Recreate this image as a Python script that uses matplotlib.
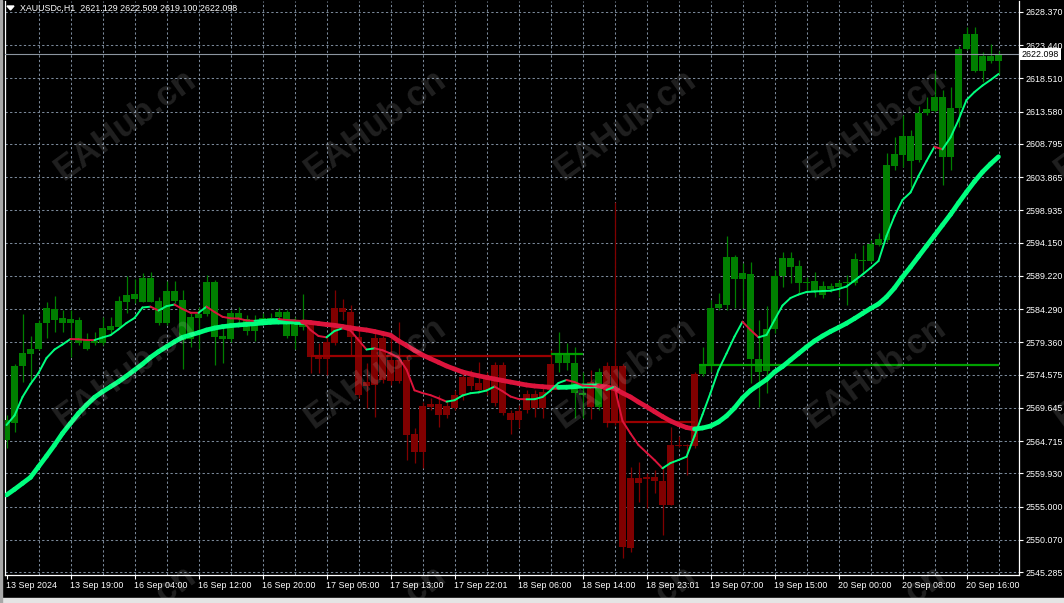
import numpy as np
import matplotlib
matplotlib.use("Agg")
import matplotlib.pyplot as plt
from matplotlib.collections import LineCollection
from matplotlib.patches import Rectangle, Polygon
import matplotlib.transforms as mtransforms

plt.rcParams['font.family'] = ['Liberation Sans', 'DejaVu Sans']

# ---------------- data (XAUUSDc, H1) ----------------
opens = [
    2564.87, 2567.34, 2575.85, 2577.63, 2578.37, 2582.27, 2582.67, 2582.27, 2582.27, 2579.21,
    2578.41, 2579.21, 2579.21, 2581.19, 2581.68, 2585.39, 2585.79, 2585.39, 2585.39, 2582.18,
    2582.18, 2585.54, 2579.70, 2579.81, 2583.01, 2583.56, 2580.19, 2579.90, 2579.90, 2582.78,
    2581.09, 2581.09, 2582.42, 2582.57, 2583.16, 2580.30, 2580.30, 2581.68, 2582.18, 2577.33,
    2579.45, 2584.50, 2584.50, 2583.90, 2580.19, 2573.52, 2580.05, 2580.05, 2576.74, 2576.74,
    2576.74, 2565.76, 2569.91, 2570.21, 2570.21, 2569.91, 2571.54, 2574.17, 2574.17, 2573.28,
    2574.26, 2576.00, 2576.00, 2568.83, 2569.17, 2571.65, 2571.65, 2572.03, 2576.14, 2576.25,
    2576.25, 2571.80, 2571.54, 2573.47, 2569.76, 2575.85, 2575.85, 2575.85, 2559.18, 2559.23,
    2559.42, 2559.42, 2558.79, 2564.12, 2564.12, 2564.12, 2574.66, 2574.62, 2576.00, 2584.41,
    2584.90, 2588.71, 2588.71, 2576.84, 2575.00, 2575.10, 2581.29, 2589.20, 2590.58, 2588.12,
    2588.12, 2587.02, 2586.38, 2587.23, 2587.61, 2588.12, 2588.12, 2591.47, 2591.47, 2593.80,
    2594.54, 2605.56, 2607.15, 2606.31, 2606.41, 2613.34, 2613.73, 2606.81, 2606.81, 2614.08,
    2622.84, 2619.66, 2619.66, 2621.14, 2621.129]
highs = [
    2568.58, 2576.14, 2583.56, 2580.30, 2582.67, 2585.39, 2586.23, 2584.15, 2584.15, 2583.16,
    2580.74, 2580.94, 2583.16, 2583.16, 2586.23, 2589.20, 2588.71, 2589.60, 2589.79, 2586.13,
    2588.50, 2588.50, 2587.12, 2583.66, 2584.64, 2589.39, 2588.61, 2581.44, 2584.15, 2584.64,
    2583.41, 2583.41, 2583.66, 2583.66, 2584.41, 2584.15, 2583.16, 2586.53, 2582.52, 2579.26,
    2580.45, 2587.12, 2585.79, 2584.90, 2581.19, 2576.29, 2581.04, 2580.74, 2580.05, 2582.42,
    2577.33, 2566.60, 2570.55, 2571.10, 2571.54, 2570.80, 2572.29, 2574.96, 2575.25, 2576.48,
    2574.96, 2576.48, 2576.48, 2569.32, 2570.06, 2572.29, 2572.29, 2572.58, 2578.22, 2580.94,
    2579.21, 2578.71, 2575.00, 2575.25, 2575.50, 2576.44, 2600.22, 2576.14, 2560.91, 2561.65,
    2559.93, 2560.42, 2560.91, 2566.80, 2565.46, 2564.27, 2574.96, 2578.71, 2585.64, 2586.63,
    2595.13, 2592.32, 2591.13, 2591.32, 2582.67, 2584.75, 2590.09, 2592.80, 2592.80, 2591.57,
    2589.10, 2589.84, 2588.46, 2588.12, 2588.61, 2589.35, 2592.57, 2593.80, 2594.54, 2595.58,
    2607.40, 2609.87, 2613.09, 2610.86, 2614.42, 2615.71, 2619.76, 2616.80, 2617.29, 2623.33,
    2626.10, 2626.10, 2622.48, 2623.62, 2622.509]
lows = [
    2563.68, 2566.10, 2573.52, 2573.52, 2578.22, 2580.00, 2580.94, 2580.89, 2577.23, 2578.96,
    2578.22, 2578.96, 2578.96, 2580.74, 2581.48, 2583.75, 2585.19, 2585.39, 2585.34, 2581.93,
    2581.93, 2585.19, 2575.36, 2578.71, 2578.33, 2583.26, 2576.00, 2576.25, 2579.45, 2581.93,
    2580.45, 2579.60, 2582.23, 2582.23, 2582.67, 2580.00, 2578.33, 2581.19, 2574.76, 2574.76,
    2574.51, 2578.96, 2582.67, 2577.48, 2571.10, 2569.57, 2568.32, 2573.33, 2573.03, 2573.33,
    2561.90, 2561.41, 2560.67, 2569.32, 2566.84, 2568.13, 2569.32, 2570.80, 2572.29, 2571.84,
    2571.54, 2569.91, 2568.58, 2565.76, 2566.60, 2568.87, 2568.32, 2568.09, 2571.99, 2574.96,
    2575.25, 2568.09, 2568.09, 2567.98, 2569.32, 2566.84, 2567.09, 2547.32, 2548.30, 2555.71,
    2554.73, 2556.96, 2550.77, 2555.22, 2563.83, 2559.67, 2563.68, 2574.36, 2574.96, 2584.15,
    2584.15, 2584.41, 2584.45, 2573.28, 2569.81, 2571.80, 2580.74, 2587.61, 2588.12, 2586.63,
    2586.87, 2586.13, 2585.94, 2586.87, 2586.13, 2584.90, 2587.86, 2589.60, 2591.28, 2593.65,
    2594.24, 2604.93, 2605.42, 2602.45, 2606.11, 2613.09, 2613.53, 2602.70, 2604.93, 2611.35,
    2622.73, 2619.47, 2618.03, 2620.76, 2619.100]
closes = [
    2567.83, 2575.85, 2577.82, 2578.41, 2582.27, 2584.45, 2584.35, 2582.92, 2582.82, 2582.67,
    2579.70, 2579.60, 2581.44, 2581.78, 2585.49, 2586.38, 2586.53, 2588.90, 2588.90, 2585.49,
    2586.97, 2586.97, 2585.64, 2583.16, 2583.56, 2588.31, 2588.31, 2580.30, 2583.66, 2583.66,
    2582.78, 2582.42, 2582.92, 2582.92, 2583.81, 2583.81, 2582.67, 2582.42, 2577.23, 2576.84,
    2576.84, 2579.21, 2583.90, 2580.19, 2571.54, 2572.88, 2573.03, 2573.77, 2573.67, 2573.67,
    2565.61, 2563.13, 2563.13, 2569.81, 2568.58, 2568.58, 2569.66, 2571.54, 2572.88, 2572.29,
    2572.29, 2570.31, 2568.83, 2567.83, 2567.83, 2569.32, 2569.66, 2569.66, 2572.29, 2577.48,
    2577.48, 2576.25, 2571.80, 2569.76, 2575.00, 2567.44, 2567.44, 2549.04, 2548.89, 2558.49,
    2559.04, 2558.79, 2555.22, 2555.22, 2563.97, 2563.97, 2563.97, 2576.00, 2584.50, 2585.05,
    2591.97, 2591.97, 2589.60, 2589.50, 2576.84, 2581.29, 2589.24, 2591.82, 2591.82, 2590.68,
    2588.35, 2588.46, 2587.76, 2587.76, 2588.12, 2588.35, 2591.72, 2591.57, 2593.95, 2594.69,
    2605.67, 2607.30, 2609.97, 2609.97, 2613.34, 2613.93, 2615.71, 2615.71, 2614.08, 2622.84,
    2625.11, 2625.11, 2621.84, 2621.84, 2622.098]
ma_fast = [
    2567.09, 2568.50, 2571.25, 2573.18, 2574.81, 2577.03, 2578.29, 2579.04, 2579.85, 2579.81,
    2579.70, 2579.69, 2580.08, 2580.42, 2581.29, 2582.23, 2582.97, 2584.53, 2584.65, 2584.08,
    2584.72, 2584.97, 2584.30, 2583.75, 2583.74, 2584.65, 2583.86, 2583.15, 2582.92, 2582.89,
    2582.60, 2582.55, 2582.67, 2582.74, 2582.82, 2582.66, 2582.59, 2582.52, 2581.19, 2580.30,
    2580.10, 2581.04, 2581.44, 2581.11, 2579.70, 2578.29, 2578.47, 2578.19, 2577.70, 2577.11,
    2575.33, 2572.24, 2571.84, 2571.52, 2571.06, 2570.56, 2570.77, 2571.47, 2571.81, 2571.94,
    2572.21, 2572.80, 2572.11, 2571.32, 2570.95, 2570.91, 2570.92, 2571.25, 2572.21, 2573.33,
    2573.77, 2573.47, 2572.95, 2572.88, 2572.80, 2572.29, 2572.77, 2567.69, 2565.83, 2564.12,
    2563.01, 2561.90, 2560.67, 2561.45, 2561.90, 2562.39, 2565.46, 2568.65, 2571.84, 2575.25,
    2577.70, 2580.22, 2582.42, 2581.19, 2580.10, 2580.45, 2582.67, 2584.82, 2585.94, 2586.45,
    2586.83, 2586.90, 2586.97, 2587.02, 2587.27, 2587.64, 2588.53, 2589.42, 2590.39, 2591.43,
    2595.13, 2598.10, 2600.48, 2601.59, 2604.04, 2606.26, 2608.38, 2607.99, 2609.75, 2612.35,
    2615.31, 2616.50, 2617.46, 2618.28, 2619.17]
ma_slow = [
    2556.71, 2557.55, 2558.44, 2559.33, 2560.91, 2562.49, 2564.12, 2565.86, 2567.35, 2568.83,
    2570.06, 2571.20, 2572.03, 2572.78, 2573.52, 2574.36, 2575.25, 2576.14, 2577.14, 2577.97,
    2578.71, 2579.45, 2580.10, 2580.45, 2580.79, 2581.19, 2581.48, 2581.68, 2581.83, 2581.93,
    2582.03, 2582.12, 2582.23, 2582.33, 2582.37, 2582.38, 2582.39, 2582.39, 2582.30, 2582.15,
    2582.00, 2581.89, 2581.71, 2581.51, 2581.34, 2581.19, 2580.97, 2580.70, 2580.42, 2579.58,
    2578.89, 2578.15, 2577.48, 2576.93, 2576.40, 2575.85, 2575.40, 2574.96, 2574.66, 2574.39,
    2574.16, 2573.92, 2573.70, 2573.47, 2573.25, 2573.03, 2572.88, 2572.78, 2572.69, 2572.68,
    2572.70, 2572.78, 2572.88, 2572.89, 2572.90, 2572.73, 2572.51, 2571.84, 2571.25, 2570.50,
    2569.81, 2569.07, 2568.35, 2567.69, 2567.17, 2566.72, 2566.50, 2566.65, 2566.94, 2567.54,
    2568.43, 2569.62, 2571.10, 2572.21, 2573.03, 2573.84, 2574.96, 2575.77, 2576.74, 2577.70,
    2578.67, 2579.56, 2580.30, 2580.97, 2581.56, 2582.18, 2582.89, 2583.64, 2584.38, 2585.05,
    2586.08, 2587.42, 2589.05, 2590.53, 2592.09, 2593.65, 2595.21, 2596.77, 2598.33, 2600.03,
    2601.66, 2603.22, 2604.63, 2605.82, 2606.90]

price_ticks = [2628.370, 2623.440, 2618.510, 2613.580, 2608.795, 2603.865, 2598.935,
               2594.150, 2589.220, 2584.290, 2579.360, 2574.575, 2569.645, 2564.715,
               2559.930, 2555.000, 2550.070, 2545.285]
time_labels = ["13 Sep 2024", "13 Sep 19:00", "16 Sep 04:00", "16 Sep 12:00",
               "16 Sep 20:00", "17 Sep 05:00", "17 Sep 13:00", "17 Sep 22:01",
               "18 Sep 06:00", "18 Sep 14:00", "18 Sep 23:01", "19 Sep 07:00",
               "19 Sep 15:00", "20 Sep 00:00", "20 Sep 08:00", "20 Sep 16:00"]
time_label_bars = [0, 8, 16, 24, 32, 40, 48, 56, 64, 72, 80, 88, 96, 104, 112, 120]

level_prices = [2577.33, 2577.60, 2567.58, 2575.99]
level_from = [38, 68, 75, 86.5]
level_to = [68, 72, 86, 124]
level_up = [False, True, False, True]

bid_price = 2622.098
symbol_text = "XAUUSDc,H1  2621.129 2622.509 2619.100 2622.098"
watermark = "EAHub.cn"

# ---------------- styling ----------------
W, H = 1064, 603
BULL = '#007f00'
BEAR = '#800000'
MA_UP = '#00ff7f'
MA_DN = '#dc143c'
GRID = '#7a8899'

fig = plt.figure(figsize=(W / 100, H / 100), dpi=100, facecolor='black')
ax = fig.add_axes([5 / W, 28 / H, 1014 / W, 574 / H])
ax.set_facecolor('black')

n = len(opens)
x = np.arange(n)
ax.set_xlim(-0.1875, 126.5625)
ax.set_ylim(2544.84, 2630.0)

# grid
dash = (0, (2.2, 2.2))
for gx in range(4, 127, 4):
    ax.axvline(gx, color=GRID, lw=0.75, ls=dash, zorder=1)
for py in price_ticks:
    ax.axhline(py, color=GRID, lw=0.75, ls=dash, zorder=1)

# candles
o = np.array(opens); c = np.array(closes)
hi = np.array(highs); lo = np.array(lows)
bull = c >= o
cols = np.where(bull, BULL, BEAR)
ax.vlines(x, lo, hi, colors=cols, lw=0.9, zorder=3)
body_bottom = np.minimum(o, c)
body_height = np.maximum(np.abs(c - o), 0.15)
ax.bar(x, body_height, width=0.8, bottom=body_bottom, color=cols, lw=0, zorder=3)

# level lines
for p, a, b, up in zip(level_prices, level_from, level_to, level_up):
    ax.hlines(p, a, b, colors='#00a000' if up else '#9a0000', lw=1.6, zorder=4)

# moving averages coloured by slope
def ma_collection(vals, lw):
    v = np.array(vals)
    segs = [[(i - 1, v[i - 1]), (i, v[i])] for i in range(1, len(v))]
    cl = [MA_UP if v[i] >= v[i - 1] else MA_DN for i in range(1, len(v))]
    return LineCollection(segs, colors=cl, linewidths=lw, capstyle='round', zorder=5)

ax.add_collection(ma_collection(ma_slow, 3.4))
ax.add_collection(ma_collection(ma_fast, 1.4))

# bid line
ax.axhline(bid_price, color='#8c95a0', lw=0.8, zorder=4)

# axes styling
for s in ['top']:
    ax.spines[s].set_visible(False)
for s in ['left', 'right', 'bottom']:
    ax.spines[s].set_color('white')
    ax.spines[s].set_linewidth(0.9)
ax.yaxis.tick_right()
ax.set_yticks(price_ticks)
ax.set_yticklabels([f"{p:.3f}" for p in price_ticks])
ax.tick_params(axis='y', colors='white', labelcolor='white', labelsize=6.4,
               length=3, width=0.8, pad=2, direction='out')
ax.set_xticks(time_label_bars)
ax.set_xticklabels(time_labels, ha='left')
ax.tick_params(axis='x', colors='white', labelcolor='white', labelsize=6.4,
               length=3, width=0.8, pad=1.5, direction='out')

# bid label box
trans = mtransforms.blended_transform_factory(ax.transAxes, ax.transData)
ax.text(1.0025, bid_price, f"{bid_price:.3f}", transform=trans, ha='left', va='center',
        fontsize=6.4, color='black', clip_on=False, zorder=10,
        bbox=dict(boxstyle='square,pad=0.18', fc='white', ec='none'))

# header
fig.text(20 / W, 1 - 8.5 / H, symbol_text, color='white', fontsize=6.4,
         ha='left', va='center')
tri = Polygon([[7, H - 6], [14, H - 6], [10.5, H - 10]], closed=True,
              transform=None, color='white', zorder=10)
fig.patches.append(tri)

# watermark
for cy in [125, 373, 621]:
    for cx in [125, 375, 625, 875, 1125]:
        fig.text(cx / W, 1 - cy / H, watermark, rotation=36, ha='center', va='center',
                 fontsize=25, fontweight='bold', color='white', alpha=0.13, zorder=20)

# window frame
fig.patches.append(Rectangle((0, 0), W, 5, transform=None, color='#e4e4e4', zorder=30))
fig.patches.append(Rectangle((0, 0), 2, H, transform=None, color='#a8a8a8', zorder=30))

fig.savefig('out.png', dpi=100, facecolor='black')
